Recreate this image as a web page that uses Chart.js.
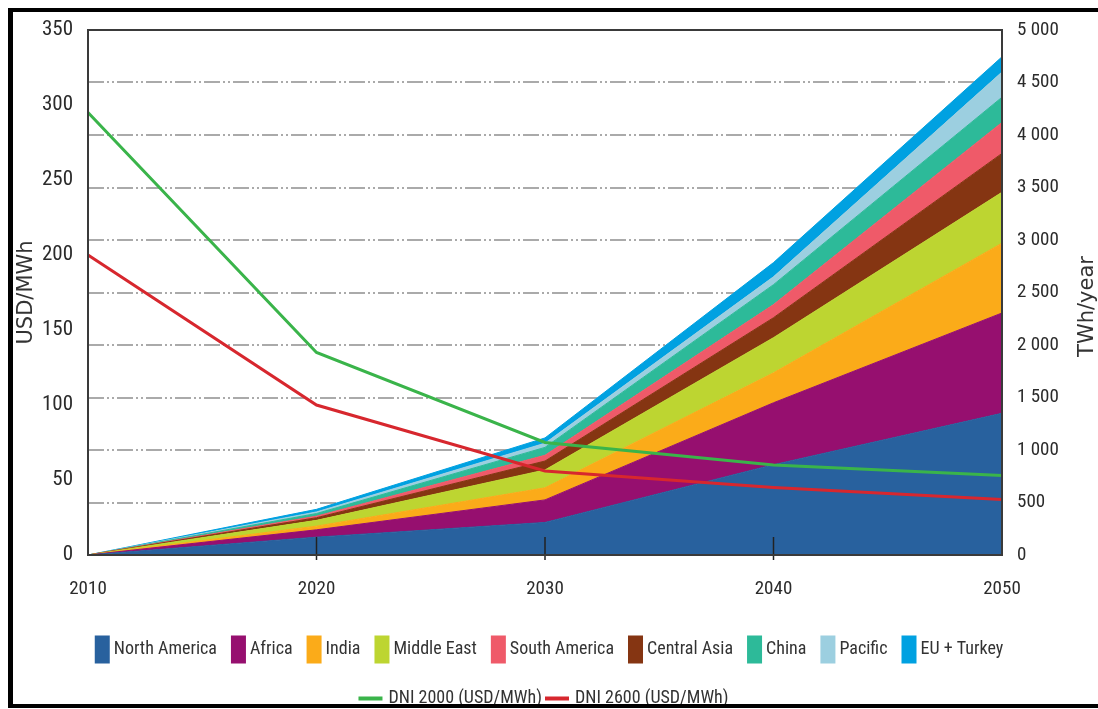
<!DOCTYPE html>
<html>
<head>
<meta charset="utf-8">
<title>CSP production by region and cost</title>
<script src="https://cdn.jsdelivr.net/npm/chart.js@4.4.1/dist/chart.umd.min.js"></script>
<style>
  html, body { margin: 0; padding: 0; background: #fff; overflow: hidden; }
  #wrap { position: relative; width: 1098px; height: 709px; overflow: hidden; }
  #chart { position: absolute; left: 0; top: 0; }
  #frame {
    position: absolute; left: 8px; top: 8px; width: 1100px; height: 700px;
    box-sizing: border-box; pointer-events: none;
    border-left: 5px solid #000; border-top: 4px solid #000; border-bottom: 4px solid #000;
  }
</style>
</head>
<body>
<div id="wrap">
  <canvas id="chart" width="1098" height="726"></canvas>
  <div id="frame"></div>
</div>
<script>
// Years on the x axis
const years = ['2010', '2020', '2030', '2040', '2050'];

// CSP production by region, TWh/year (stacked areas, right axis)
const northAmerica = [0, 170, 310, 860, 1350];
const africa = [0, 70, 215, 590, 955];
const india = [0, 35, 115, 285, 665];
const middleEast = [0, 55, 170, 335, 485];
const centralAsia = [0, 25, 85, 190, 370];
const southAmerica = [0, 15, 55, 125, 295];
const china = [0, 25, 75, 190, 240];
const pacific = [0, 15, 40, 75, 240];
const euTurkey = [0, 25, 50, 135, 145];

// Generation cost, USD/MWh (lines, left axis)
const dni2000 = [295, 135, 75, 60, 53];
const dni2600 = [200, 100, 56, 45, 37];

// Right axis tick labels
const twhTickLabels = ['0', '500', '1 000', '1 500', '2 000', '2 500', '3 000', '3 500', '4 000', '4 500', '5 000'];

// Legend reads in this order (stacking puts Central Asia under South America)
const legendOrder = [
  'North America', 'Africa', 'India', 'Middle East', 'South America',
  'Central Asia', 'China', 'Pacific', 'EU + Turkey',
  'DNI 2000 (USD/MWh)', 'DNI 2600 (USD/MWh)'
];

const narrowFont = '"Liberation Sans Narrow", "Roboto Condensed", "Noto Sans Condensed", "DejaVu Sans Condensed", sans-serif';
const textColor = '#2b2b2b';

function regionDataset(label, data, color, fill) {
  return {
    type: 'line',
    label: label,
    data: data,
    yAxisID: 'y2',
    order: 1,
    backgroundColor: color,
    borderColor: color,
    borderWidth: 1,
    pointRadius: 0,
    tension: 0,
    fill: fill
  };
}

function costDataset(label, data, color) {
  return {
    type: 'line',
    label: label,
    data: data,
    yAxisID: 'y',
    order: 0,
    borderColor: color,
    backgroundColor: color,
    borderWidth: 3,
    pointRadius: 0,
    tension: 0,
    fill: false
  };
}

// Frame, inner decade ticks, right axis title and legend markers
const decorPlugin = {
  id: 'decor',
  afterDatasetsDraw(chart) {
    const { ctx, chartArea: a, scales: { x } } = chart;
    ctx.save();
    ctx.strokeStyle = '#222';
    ctx.lineWidth = 1.5;
    for (let i = 1; i < years.length - 1; i++) {
      const px = x.getPixelForTick(i);
      ctx.beginPath();
      ctx.moveTo(px, a.bottom - 18);
      ctx.lineTo(px, a.bottom + 5);
      ctx.stroke();
    }
    ctx.strokeStyle = '#3a3a3a';
    ctx.lineWidth = 2;
    ctx.strokeRect(a.left, a.top, a.right - a.left, a.bottom - a.top);
    ctx.restore();
  },
  afterDraw(chart) {
    const { ctx, chartArea: a } = chart;
    ctx.save();
    ctx.font = '21px "DejaVu Sans"';
    ctx.fillStyle = '#333';
    ctx.textAlign = 'center';
    ctx.textBaseline = 'middle';
    ctx.translate(chart.width - 10, (a.top + a.bottom) / 2 + 14);
    ctx.rotate(-Math.PI / 2);
    ctx.fillText('TWh/year', 0, 0);
    ctx.restore();

    const legend = chart.legend;
    ctx.save();
    legend.legendItems.forEach((item, i) => {
      const box = legend.legendHitBoxes[i];
      const cy = box.top + box.height / 2;
      ctx.fillStyle = item.markerColor;
      if (item.marker === 'line') {
        ctx.fillRect(box.left - 11, cy - 2, 24, 4);
      } else {
        ctx.fillRect(box.left, cy - 14, 15, 28);
      }
    });
    ctx.restore();
  }
};

const ctx = document.getElementById('chart').getContext('2d');

new Chart(ctx, {
  type: 'line',
  data: {
    labels: years,
    datasets: [
      regionDataset('North America', northAmerica, '#28619e', 'origin'),
      regionDataset('Africa', africa, '#960f6f', '-1'),
      regionDataset('India', india, '#fbab19', '-1'),
      regionDataset('Middle East', middleEast, '#bdd531', '-1'),
      regionDataset('Central Asia', centralAsia, '#853512', '-1'),
      regionDataset('South America', southAmerica, '#ef5a69', '-1'),
      regionDataset('China', china, '#2dba99', '-1'),
      regionDataset('Pacific', pacific, '#9ccfe0', '-1'),
      regionDataset('EU + Turkey', euTurkey, '#00a1e1', '-1'),
      costDataset('DNI 2000 (USD/MWh)', dni2000, '#3ab44a'),
      costDataset('DNI 2600 (USD/MWh)', dni2600, '#d7272e')
    ]
  },
  options: {
    responsive: false,
    animation: false,
    layout: { padding: { left: 14, right: 14, top: 30, bottom: 0 } },
    plugins: {
      tooltip: { enabled: false },
      legend: {
        position: 'bottom',
        labels: {
          font: { family: narrowFont, size: 18 },
          color: '#333',
          boxWidth: 10,
          boxHeight: 35,
          padding: 14,
          generateLabels: chart => legendOrder.map(name => {
            const i = chart.data.datasets.findIndex(d => d.label === name);
            const ds = chart.data.datasets[i];
            return {
              text: name,
              datasetIndex: i,
              fillStyle: 'rgba(0,0,0,0)',
              strokeStyle: 'rgba(0,0,0,0)',
              lineWidth: 0,
              hidden: false,
              fontColor: '#333',
              marker: ds.yAxisID === 'y' ? 'line' : 'box',
              markerColor: ds.borderColor
            };
          })
        }
      }
    },
    scales: {
      x: {
        grid: { display: false, drawTicks: false },
        border: { display: false },
        ticks: { font: { family: narrowFont, size: 19 }, color: textColor, padding: 23, maxRotation: 0, autoSkip: false },
        afterFit: s => { s.height = 63; }
      },
      y: {
        position: 'left',
        min: 0,
        max: 350,
        ticks: { stepSize: 50, font: { family: narrowFont, size: 21 }, color: textColor, padding: 15 },
        grid: { display: false, drawTicks: false },
        border: { display: false },
        title: {
          display: true,
          text: 'USD/MWh',
          font: { family: '"DejaVu Sans"', size: 21 },
          color: '#333',
          padding: 0
        },
        afterFit: s => { s.width = 74; }
      },
      y2: {
        position: 'right',
        stacked: true,
        min: 0,
        max: 5000,
        ticks: {
          stepSize: 500,
          font: { family: narrowFont, size: 19 },
          color: textColor,
          padding: 15,
          callback: (v, i) => twhTickLabels[i]
        },
        grid: {
          color: c => (c.tick && (c.tick.value === 0 || c.tick.value === 5000)) ? 'rgba(0,0,0,0)' : '#aaaaaa',
          lineWidth: 2,
          drawTicks: false
        },
        border: { display: false, dash: [16, 3, 2, 3, 2, 3] },
        afterFit: s => { s.width = 82; }
      }
    }
  },
  plugins: [decorPlugin]
});
</script>
</body>
</html>
